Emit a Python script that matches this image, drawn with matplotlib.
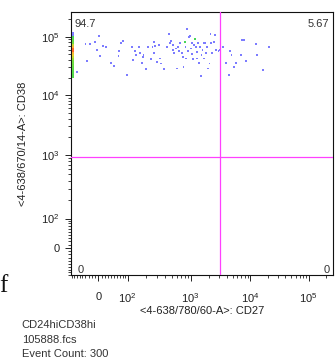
import numpy as np
import matplotlib
matplotlib.use('Agg')
import matplotlib.pyplot as plt
from matplotlib.colors import LinearSegmentedColormap
from matplotlib.ticker import FixedLocator, FixedFormatter

plt.rcParams['font.family'] = ['Liberation Sans', 'DejaVu Sans']
plt.rcParams['mathtext.fontset'] = 'custom'
plt.rcParams['mathtext.rm'] = 'Liberation Sans'
plt.rcParams['mathtext.default'] = 'rm'

# events (CD27, CD38), scattered ones
cd27 = [-40, -25, -11, 3, 14, 23, -34, -5, 4, 40, 50, 66, 65, 73, 81, 99,
        122, 135, 140, 126, 156, 163, 181, 175, 185, 203, 220, 238, 265, 254,
        265, 278, 296, 320, 335, 345, 380, 420, 450, 470, 490, 520, 525, 545,
        590, 605, 625, 650, 680, 720, 750, 770, 800, 830, 845, 870, 915, 940,
        990, 1020, 1060, 1070, 1100, 1130, 1160, 1210, 1260, 1290, 1320, 1370,
        1430, 1470, 1510, 1570, 1630, 1680, 1730, 1780, 1870, 1920, 2050, 2130,
        2190, 2250, 2440, 2560, 2660, 2900, 3020, -70, 1165, 805,
        3400, 3860, 4400, 4530, 4790, 5240, 5800, 6940, 7290, 7900, 8500,
        12500, 13200, 16600, 21000]
cd38 = [73900, 73900, 79900, 101300, 70100, 67400, 38300, 59100, 47300, 35900,
        31400, 56800, 47300, 76900, 85300, 21800, 67400, 57500, 47900, 39900,
        67400, 53200, 45500, 35900, 48500, 27600, 67400, 40900, 82000, 67400,
        51800, 69100, 37300, 71900, 42500, 34900, 27600, 67400, 109500, 76900,
        85300, 59100, 71900, 51800, 63000, 28700, 67400, 56800, 76900, 51800,
        45500, 30600, 82000, 67400, 42500, 133400, 57500, 99900, 102600, 63000,
        76900, 50400, 40900, 71900, 92400, 67400, 55300, 42500, 76900, 35900,
        67400, 21200, 48500, 59100, 76900, 42500, 78800, 53200, 67400, 28700,
        34900, 109500, 76900, 51800, 82000, 105300, 59100, 57500, 59100, 24800,
        92600, 82300,
        67400, 35900, 21800, 57500, 48500, 30600, 35900, 48500, 87600, 87600,
        37800, 73900, 48500, 26800, 67400]

# off-scale-low CD27 events piled at the left edge
offscale_cd27 = -84
pile_cd38 = [115500, 106800, 98500, 91100, 84200, 77900, 71900, 66500, 61500,
             56800, 52400, 48500, 44800, 41500, 38300, 35400, 32700, 30200,
             27900, 25800, 23900, 22100, 20400]
pile_counts = [1, 1, 2, 5, 7, 9, 12, 14, 16, 16, 14, 13, 12, 11, 10, 9, 8, 7,
               6, 5, 5, 4, 4]

gate_cd27 = 3050
gate_cd38 = 950
quad_labels = ['94.7', '5.67', '0', '0']

major_ticks = [0, 1e2, 1e3, 1e4, 1e5]
major_labels = ['0', r'$10^2$', r'$10^3$', r'$10^4$', r'$10^5$']

# logicle (biexponential) display, FlowJo style
T, M, W = 262144.0, 4.5, 0.465
lo_p, hi_p = 1.0001, 20.0
for _ in range(80):
    mid = (lo_p + hi_p) / 2
    if 2 * mid * np.log10(mid) / (mid + 1) > W:
        hi_p = mid
    else:
        lo_p = mid
p = (lo_p + hi_p) / 2


def logicle_inverse(d):
    d = np.asarray(d, dtype=float)
    s = np.where(d >= W, d, 2 * W - d)
    v = T * 10 ** -(M - W) * (10 ** (s - W) - p ** 2 * 10 ** (-(s - W) / p) + p ** 2 - 1)
    return np.where(d >= W, v, -v)


grid_d = np.linspace(-1, 6.5, 30001)
grid_x = logicle_inverse(grid_d)


def logicle_forward(x):
    return np.interp(np.asarray(x, dtype=float), grid_x, grid_d)


minor_ticks = ([-10 * k for k in range(1, 10)] + [10 * k for k in range(1, 10)]
               + [100 * k for k in range(2, 10)] + [1000 * k for k in range(2, 10)]
               + [10000 * k for k in range(2, 10)] + [2e5])

fig = plt.figure(figsize=(3.36, 3.59), dpi=100)
ax = fig.add_axes([0.2122, 0.2340, 0.7789, 0.7318])
ax.set_xscale('function', functions=(logicle_forward, logicle_inverse))
ax.set_yscale('function', functions=(logicle_forward, logicle_inverse))
lo = float(logicle_inverse(0.0))
ax.set_xlim(lo, T)
ax.set_ylim(lo, T)

for axis in (ax.xaxis, ax.yaxis):
    axis.set_major_locator(FixedLocator(major_ticks))
    axis.set_major_formatter(FixedFormatter(major_labels))
    axis.set_minor_locator(FixedLocator(minor_ticks))
ax.tick_params(which='major', length=4.5, width=0.7, direction='out', labelsize=8,
               colors='#222222', pad=4)
ax.tick_params(axis='x', which='major', pad=7.5)
ax.tick_params(which='minor', length=2.5, width=0.6, direction='out', colors='#222222')
for sp in ax.spines.values():
    sp.set_linewidth(0.8)
    sp.set_color('#111111')

all_x = np.concatenate([np.array(cd27, float),
                        np.full(sum(pile_counts), float(offscale_cd27))])
all_y = np.concatenate([np.array(cd38, float),
                        np.repeat(np.array(pile_cd38, float), pile_counts)])

# pseudocolor by local density in pixel space
pix = ax.transData.transform(np.column_stack([all_x, all_y]))
dist = np.hypot(pix[:, None, 0] - pix[None, :, 0], pix[:, None, 1] - pix[None, :, 1])
counts = (dist < 1.0).sum(axis=1)
dens = (counts - 1) / max(counts.max() - 1, 1)
cmap = LinearSegmentedColormap.from_list('flowjo', [
    (0.0, '#7c7cff'), (0.07, '#44d850'), (0.6, '#74dc3c'),
    (0.78, '#e6d428'), (0.9, '#ffa436'), (1.0, '#ff6a2a')])
order = np.argsort(counts)
ax.scatter(all_x[order], all_y[order], c=cmap(dens[order]), marker='s', s=1.8,
           linewidths=0, zorder=3)

ax.axvline(gate_cd27, color='#ff40ff', lw=0.9, zorder=3)
ax.axhline(gate_cd38, color='#ff40ff', lw=0.9, zorder=3)

txt = dict(fontsize=8, color='#333333', transform=ax.transAxes)
ax.text(0.014, 0.943, quad_labels[0], ha='left', va='baseline', **txt)
ax.text(0.986, 0.943, quad_labels[1], ha='right', va='baseline', **txt)
ax.text(0.024, 0.008, quad_labels[2], ha='left', va='baseline', **txt)
ax.text(0.988, 0.008, quad_labels[3], ha='right', va='baseline', **txt)

ax.set_xlabel('<4-638/780/60-A>: CD27', fontsize=8, color='#222222')
ax.set_ylabel('<4-638/670/14-A>: CD38', fontsize=8, color='#222222')
ax.xaxis.set_label_coords(0.5, -0.118)
ax.yaxis.set_label_coords(-0.165, 0.5)

fig.text(-0.003, 0.1866, 'f', fontsize=18, family='Liberation Serif',
         ha='left', va='baseline', color='#111111')
for yy, line in zip([1 - 328.3 / 359, 1 - 343.3 / 359, 1 - 357.3 / 359],
                    ['CD24hiCD38hi', '105888.fcs', 'Event Count: 300']):
    fig.text(0.0645, yy, line, fontsize=8, color='#333333', ha='left', va='baseline')

fig.savefig('out.png', dpi=100)
